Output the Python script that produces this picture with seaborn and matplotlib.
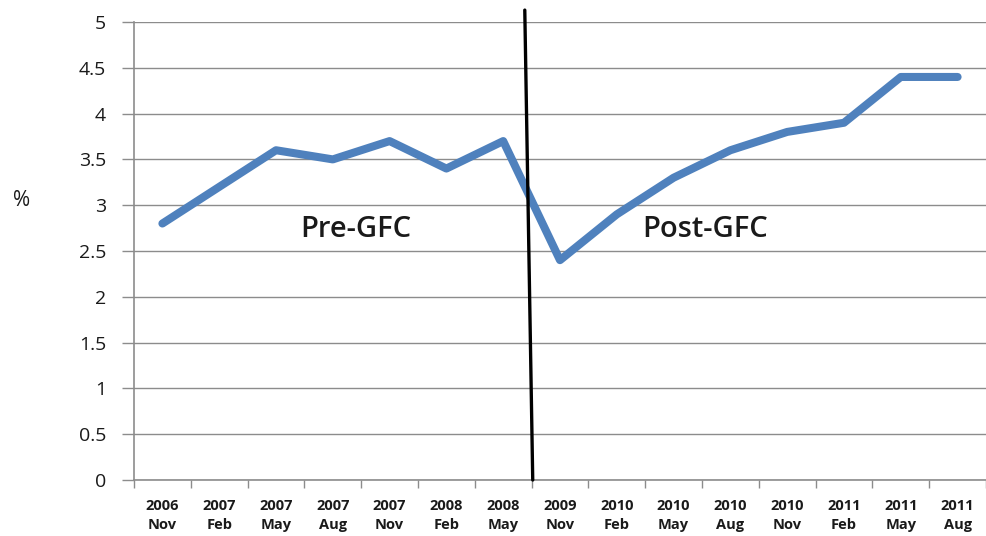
import matplotlib
matplotlib.use("Agg")
import matplotlib.pyplot as plt
import numpy as np
import pandas as pd
import seaborn as sns

# data
years = ["2006", "2007", "2007", "2007", "2007", "2008", "2008", "2009",
         "2010", "2010", "2010", "2010", "2011", "2011", "2011"]
months = ["Nov", "Feb", "May", "Aug", "Nov", "Feb", "May", "Nov",
          "Feb", "May", "Aug", "Nov", "Feb", "May", "Aug"]
values = [2.8, 3.2, 3.6, 3.5, 3.7, 3.4, 3.7, 2.4,
          2.9, 3.3, 3.6, 3.8, 3.9, 4.4, 4.4]
y_ticks = [0, 0.5, 1, 1.5, 2, 2.5, 3, 3.5, 4, 4.5, 5]
y_tick_labels = ["0", "0.5", "1", "1.5", "2", "2.5", "3", "3.5", "4", "4.5", "5"]

LINE = "#4F81BD"
GRID = "#8C8C8C"
INK = "#1A1A1A"

sns.set_theme(style="white")
plt.rcParams["font.family"] = ["Open Sans", "DejaVu Sans"]

df = pd.DataFrame({"pos": np.arange(len(values)), "value": values})

fig = plt.figure(figsize=(9.86, 5.36), dpi=100)
ax = fig.add_axes([134 / 986, 56 / 536, 1 - 134 / 986, 458 / 536])

for y in y_ticks:
    ax.axhline(y, color=GRID, linewidth=1.0, zorder=1)

sns.lineplot(data=df, x="pos", y="value", ax=ax, color=LINE, linewidth=5.8,
             solid_joinstyle="round", solid_capstyle="round", zorder=3)

ax.set_ylim(0, 5)
ax.set_xlim(-0.5, 14.3)

ax.set_yticks(y_ticks)
ax.set_yticklabels(y_tick_labels, fontsize=14, color=INK)
ax.tick_params(axis="y", direction="out", length=9, width=1, color=GRID, left=True, pad=11)

boundaries = np.arange(len(values) + 1) - 0.5
ax.set_xticks(boundaries)
ax.set_xticklabels([])
ax.set_xticks(np.arange(len(values)), minor=True)
ax.set_xticklabels([f"{y}\n{m}" for y, m in zip(years, months)], minor=True,
                   fontsize=10.5, fontweight="bold", color=INK, linespacing=1.45)
ax.tick_params(axis="x", which="major", direction="out", length=6, width=1, color=GRID, bottom=True)
ax.tick_params(axis="x", which="minor", length=0, pad=14)

ax.set_xlabel("")
ax.set_ylabel("")
for side in ["top", "right"]:
    ax.spines[side].set_visible(False)
for side in ["left", "bottom"]:
    ax.spines[side].set_color(GRID)
    ax.spines[side].set_linewidth(1.2)

# GFC divider
ax.plot([6.38, 6.52], [5.13, 0], color="black", linewidth=2.4, clip_on=False, zorder=4)

ax.text(3.41, 2.653, "Pre-GFC", fontsize=21, fontweight="semibold",
        ha="center", va="baseline", color=INK)
ax.text(9.55, 2.653, "Post-GFC", fontsize=21, fontweight="semibold",
        ha="center", va="baseline", color=INK)
fig.text(22 / 986, 1 - 200 / 536, "%", fontsize=15, ha="center", va="center", color=INK)

fig.savefig("out.png", dpi=100)
